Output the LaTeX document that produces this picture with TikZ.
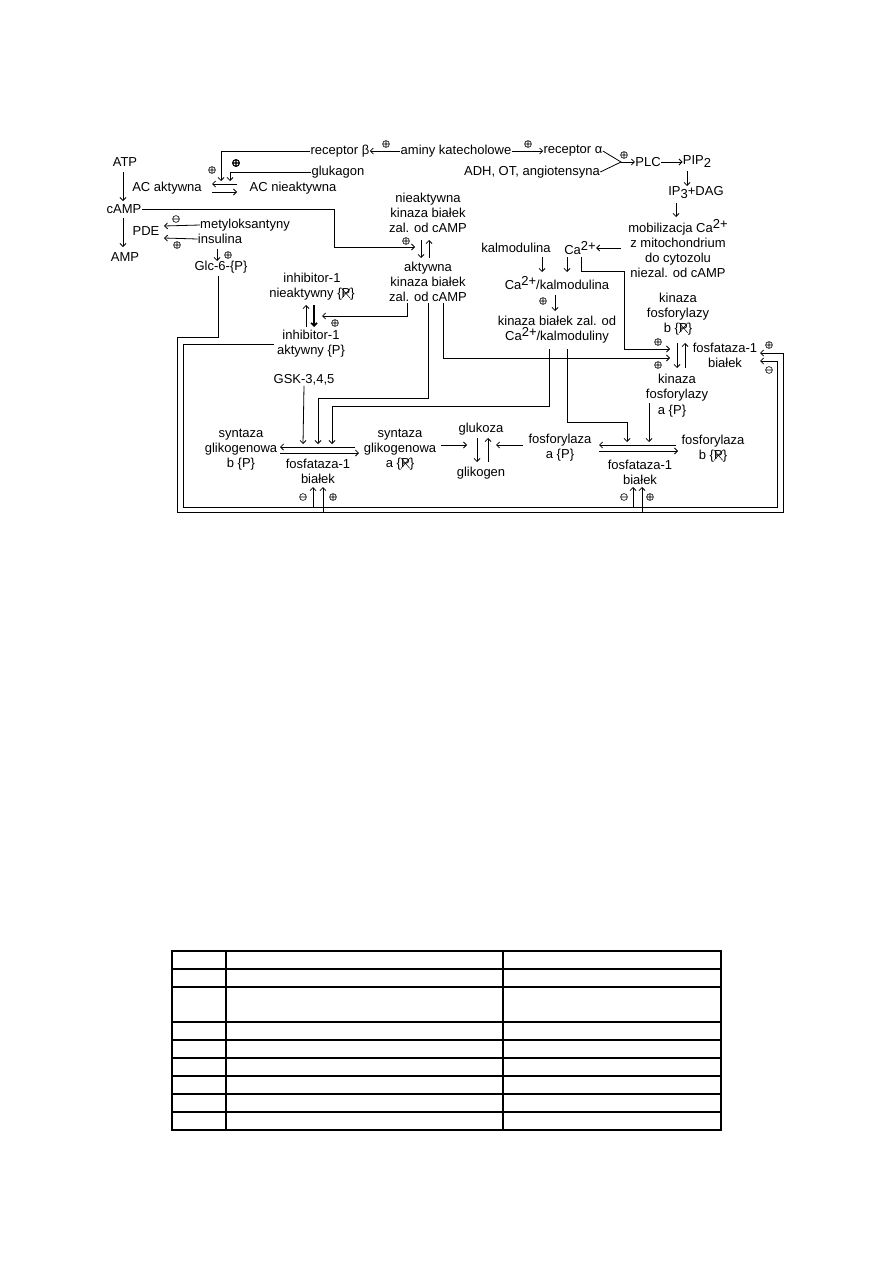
\documentclass[tikz,border=0pt]{standalone}
\usepackage{fontspec}
\setmainfont{Liberation Sans}
\usepackage{graphicx}
\usetikzlibrary{arrows.meta}
\newcommand{\Pd}{\{\ooalign{P\cr\hidewidth\tikz[baseline=0pt,x=1pt,y=1pt]\draw[line width=0.5pt] (0,-0.5)--(8.6,9.6) (0,9.6)--(8.6,-0.5);\hidewidth}\}}
\newcommand{\Ca}{Ca\raisebox{4pt}{2+}}
\begin{document}
\begin{tikzpicture}[x=1pt,y=-1pt,line width=0.8pt,
  every node/.style={font=\fontsize{13}{15}\selectfont,inner sep=0pt,align=center},
  arr/.style={-{Straight Barb[length=3pt,width=6pt]}},
  opl/.pic={\draw[line width=0.6pt] (0,0) circle (3.4pt) (-3.4pt,0)--(3.4pt,0) (0,-3.4pt)--(0,3.4pt);},
  oplb/.pic={\draw[line width=1.1pt] (0,0) circle (3.4pt) (-3.4pt,0)--(3.4pt,0) (0,-3.4pt)--(0,3.4pt);},
  omi/.pic={\draw[line width=0.6pt] (0,0) circle (3.4pt) (-3.4pt,0)--(3.4pt,0);}]
\useasboundingbox (0,0) rectangle (893,1263);

% ---------- texts ----------
\node (atp) at (125,162) {ATP};
\node (acakt) at (167,188) {AC aktywna};
\node (acnie) at (293,188) {AC nieaktywna};
\node (camp) at (124,209) {cAMP};
\node (pde) at (146,231) {PDE};
\node (amp) at (125,257) {AMP};
\node (metyl) at (245,225) {metyloksantyny};
\node (insul) at (220,239) {insulina};
\node (glc) at (221,267) {Glc-6-\{P\}};
\node (recb) at (340,151) {receptor β};
\node (gluk) at (338,172) {glukagon};
\node (amin) at (456,151) {aminy katecholowe};
\node (reca) at (573,151) {receptor α};
\node (adh) at (532,172) {ADH, OT, angiotensyna};
\node (plc) at (648,162) {PLC};
\node (pip) at (697,162) {PIP\raisebox{-3pt}{2}};
\node (ip3) at (696,193) {IP\raisebox{-3pt}{3}+DAG};
\node (mob) at (678,249) {mobilizacja \Ca\\z mitochondrium\\do cytozolu\\niezal. od cAMP};
\node (ca) at (580,248) {\Ca};
\node (kalm) at (516,248) {kalmodulina};
\node (cakalm) at (557,283) {\Ca/kalmodulina};
\node (kinca) at (557,330) {kinaza białek zal. od\\\Ca/kalmoduliny};
\node (pkan) at (428,213) {nieaktywna\\kinaza białek\\zal. od cAMP};
\node (pkaa) at (428,282) {aktywna\\kinaza białek\\zal. od cAMP};
\node (inhn) at (312,287) {inhibitor-1\\nieaktywny \Pd};
\node (inha) at (311,344) {inhibitor-1\\aktywny \{P\}};
\node (gsk) at (304,380) {GSK-3,4,5};
\node (kfb) at (678,314) {kinaza\\fosforylazy\\b \Pd};
\node (fos1) at (725,355) {fosfataza-1\\białek};
\node (kfa) at (677,388) {kinaza\\fosforylazy};
\node (kfap) at (672,411) {a \{P\}};
\node (syb) at (241,450) {syntaza\\glikogenowa\\b \{P\}};
\node (fos2) at (318,471) {fosfataza-1\\białek};
\node (sya) at (400,450) {syntaza\\glikogenowa\\a \Pd};
\node (glu) at (481,429) {glukoza};
\node (glik) at (481,473) {glikogen};
\node (fosa) at (560,448) {fosforylaza\\a \{P\}};
\node (fos3) at (640,472) {fosfataza-1\\białek};
\node (fosb) at (713,449) {fosforylaza\\b \Pd};

% ---------- arrows ----------
\draw[arr] (123,172) -- (123,201);
\draw[arr] (123,218) -- (123,247);
\draw[arr] (237,184) -- (212,184);
\draw[arr] (212,192) -- (237,192);
\draw[arr] (recb.west) -| (221,181);
\pic at (212,170) {opl};
\draw[arr] (gluk.west) -| (230,181);
\pic at (236,163) {oplb};
\draw[arr] (amin.west) -- (recb.east);
\pic at (386,144) {opl};
\draw[arr] (amin.east) -- (reca.west);
\pic at (528,144) {opl};
\coordinate (junc) at (621,162);
\draw (reca.east) -- (junc) -- (adh.east);
\draw[arr] (junc) -- (plc.west);
\pic at (624,155) {opl};
\draw[arr] (plc.east) -- (pip.west);
\draw[arr] (687,171) -- (687,186);
\draw[arr] (676,203) -- (676,217);
\draw[arr] (621,248) -- (ca.east);
\draw[arr] (542,257) -- (542,272);
\draw[arr] (567,257) -- (567,272);
\draw[arr] (555,295) -- (555,311);
\pic at (543,301) {opl};
% PDE
\draw[arr] (metyl.west) -- (164,226);
\pic at (176,219) {omi};
\draw[arr] (insul.west) -- (164,238);
\pic at (177,245) {opl};
\draw[arr] (217,249) -- (217,261);
\pic at (228,255) {opl};
% cAMP -> PKA
\draw[arr] (camp.east) -- (334,209) -- (334,247) -- (415,247);
\pic at (406,241) {opl};
\draw[arr] (421,240) -- (421,258);
\draw[arr] (429,258) -- (429,240);
% PKA -> inhibitor-1
\draw[arr] (407,303) -- (407,316) -- (322,316);
\pic at (335,323) {opl};
\draw[arr] (306,327) -- (306,305);
\draw[arr,line width=1.6pt] (314,305) -- (314,327);
% PKA -> synthase
\draw[arr] (428,303) -- (428,398) -- (318,398) -- (318,444);
\draw[arr] (gsk.south) -- (303,444);
% Ca kinase -> synthase, phosphorylase
\draw[arr] (549,349) -- (549,406) -- (332,406) -- (332,444);
\draw[arr] (567,349) -- (567,422) -- (627,422) -- (627,442);
% PKA -> phosphorylase kinase
\draw[arr] (443,303) -- (443,358) -- (670,358);
\pic at (658,365) {opl};
\draw[arr] (581,257) -- (581,271) -- (624,271) -- (624,349) -- (670,349);
\pic at (658,342) {opl};
\draw[arr] (677,343) -- (677,368);
\draw[arr] (685,368) -- (685,343);
\draw[arr] (649,403) -- (649,442);
% synthase
\draw[arr] (355,447) -- (280,447);
\draw[arr] (280,453) -- (359,453);
\draw[arr] (441,445) -- (467,445);
\draw[arr] (477,438) -- (477,462);
\draw[arr] (488,462) -- (488,438);
\draw[arr] (523,445) -- (496,445);
% phosphorylase
\draw[arr] (676,445) -- (599,445);
\draw[arr] (599,451) -- (678,451);
% feedback loops
\draw[arr] (218,276) -- (218,337) -- (177,337) -- (177,512) -- (783,512) -- (783,353) -- (760,353);
\pic at (769,345) {opl};
\draw[arr] (274,344) -- (183,344) -- (183,507) -- (777,507) -- (777,361) -- (760,361);
\pic at (769,370) {omi};
\draw[arr] (323,512) -- (323,487);
\pic at (333,497) {opl};
\draw[arr] (313,507) -- (313,487);
\pic at (303,497) {omi};
\draw[arr] (642,512) -- (642,487);
\pic at (650,497) {opl};
\draw[arr] (633,507) -- (633,487);
\pic at (624,497) {omi};

% ---------- table ----------
\draw[line width=1.2pt] (172,951) rectangle (721,1130);
\foreach \yy in {969,987,1022,1040,1058,1076,1094,1112}
  \draw[line width=1.2pt] (172,\yy) -- (721,\yy);
\foreach \xx in {226,503}
  \draw[line width=1.2pt] (\xx,951) -- (\xx,1130);
\end{tikzpicture}
\end{document}
